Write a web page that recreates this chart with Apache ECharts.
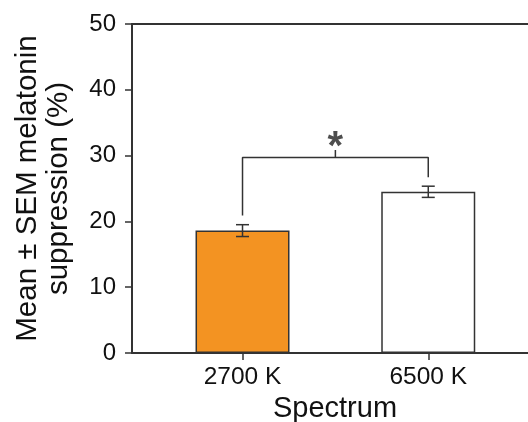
<!DOCTYPE html>
<html>
<head>
<meta charset="utf-8">
<script src="https://cdn.jsdelivr.net/npm/echarts@6/dist/echarts.min.js"></script>
<style>html,body{margin:0;padding:0;background:#fff;}#c{width:528px;height:422px;}</style>
</head>
<body>
<div id="c"></div>
<script>
const categories = ['2700 K', '6500 K'];
const means = [18.6, 24.5];
const sems = [0.9, 0.85];
const barColors = ['#F39322', '#FFFFFF'];
const yTicks = [0, 10, 20, 30, 40, 50];
// significance bracket: left foot, top, right foot, star tick top
const bracketLeftFoot = 20.9;
const bracketTop = 29.7;
const bracketRightFoot = 26.7;
const starTickTop = 30.85;
const starY = 31.2;
const starText = '*';

const FONT = '"Liberation Sans", Arial, Helvetica, sans-serif';
const INK = '#333333';

const catIdx = categories.map((c, i) => i);
const mid = (catIdx[0] + catIdx[1]) / 2;

const chart = echarts.init(document.getElementById('c'), null, {renderer: 'canvas'});
chart.setOption({
  animation: false,
  backgroundColor: '#fff',
  grid: {left: 132, right: 0, top: 24, bottom: 69, containLabel: false, outerBoundsMode: 'none'},
  xAxis: [{
    type: 'value',
    min: -0.595, max: 1.537,
    position: 'bottom',
    name: 'Spectrum',
    nameLocation: 'middle',
    nameGap: 36,
    nameTextStyle: {fontFamily: FONT, fontSize: 29, color: '#111', padding: [0, 0, 0, 10]},
    axisLine: {show: true, onZero: false, lineStyle: {color: INK, width: 2}},
    axisTick: {show: true, customValues: catIdx, length: 7, lineStyle: {color: INK, width: 1.5}},
    axisLabel: {show: true, customValues: catIdx, margin: 12,
      formatter: v => categories[Math.round(v)] || '',
      fontFamily: FONT, fontSize: 24.5, color: '#111'},
    splitLine: {show: false}
  }, {
    type: 'value',
    min: -0.595, max: 1.537,
    position: 'top',
    axisLine: {show: true, onZero: false, lineStyle: {color: INK, width: 2}},
    axisTick: {show: false},
    axisLabel: {show: false},
    splitLine: {show: false}
  }],
  yAxis: {
    type: 'value',
    min: yTicks[0], max: yTicks[yTicks.length - 1], interval: 10,
    name: 'Mean ± SEM melatonin\nsuppression (%)',
    nameLocation: 'middle',
    nameGap: 58,
    nameTextStyle: {fontFamily: FONT, fontSize: 29.5, lineHeight: 31, color: '#111'},
    axisLine: {show: true, onZero: false, lineStyle: {color: INK, width: 2}},
    axisTick: {show: true, length: 7, lineStyle: {color: INK, width: 1.5}},
    axisLabel: {margin: 16, fontFamily: FONT, fontSize: 24, color: '#111'},
    splitLine: {show: false}
  },
  series: [{
    type: 'bar',
    xAxisIndex: 0,
    barWidth: 94,
    data: means.map((m, i) => ({value: [catIdx[i], m], itemStyle: {color: barColors[i]}})),
    itemStyle: {borderColor: INK, borderWidth: 1.5}
  }, {
    type: 'custom',
    xAxisIndex: 0,
    data: means.map((m, i) => [catIdx[i], m - sems[i], m + sems[i]]),
    renderItem: (params, api) => {
      const x = api.value(0);
      const lo = api.coord([x, api.value(1)]);
      const hi = api.coord([x, api.value(2)]);
      const hw = 6.5;
      const st = {stroke: INK, lineWidth: 1.5};
      return {type: 'group', children: [
        {type: 'line', shape: {x1: lo[0], y1: lo[1], x2: hi[0], y2: hi[1]}, style: st},
        {type: 'line', shape: {x1: lo[0] - hw, y1: lo[1], x2: lo[0] + hw, y2: lo[1]}, style: st},
        {type: 'line', shape: {x1: hi[0] - hw, y1: hi[1], x2: hi[0] + hw, y2: hi[1]}, style: st}
      ]};
    },
    z: 5
  }, {
    type: 'line',
    xAxisIndex: 0,
    symbol: 'none',
    lineStyle: {color: INK, width: 1.5},
    data: [[catIdx[0], bracketLeftFoot], [catIdx[0], bracketTop], [catIdx[1], bracketTop], [catIdx[1], bracketRightFoot]],
    z: 6
  }, {
    type: 'line',
    xAxisIndex: 0,
    symbol: 'none',
    lineStyle: {color: INK, width: 1.5},
    data: [[mid, bracketTop], [mid, starTickTop]],
    z: 6
  }, {
    type: 'scatter',
    xAxisIndex: 0,
    symbolSize: 1,
    itemStyle: {color: 'rgba(0,0,0,0)'},
    label: {show: true, position: 'inside', formatter: starText,
      fontFamily: FONT, fontSize: 40, fontWeight: 'bold', color: '#222'},
    data: [[mid, starY]],
    z: 7
  }]
});
</script>
</body>
</html>
